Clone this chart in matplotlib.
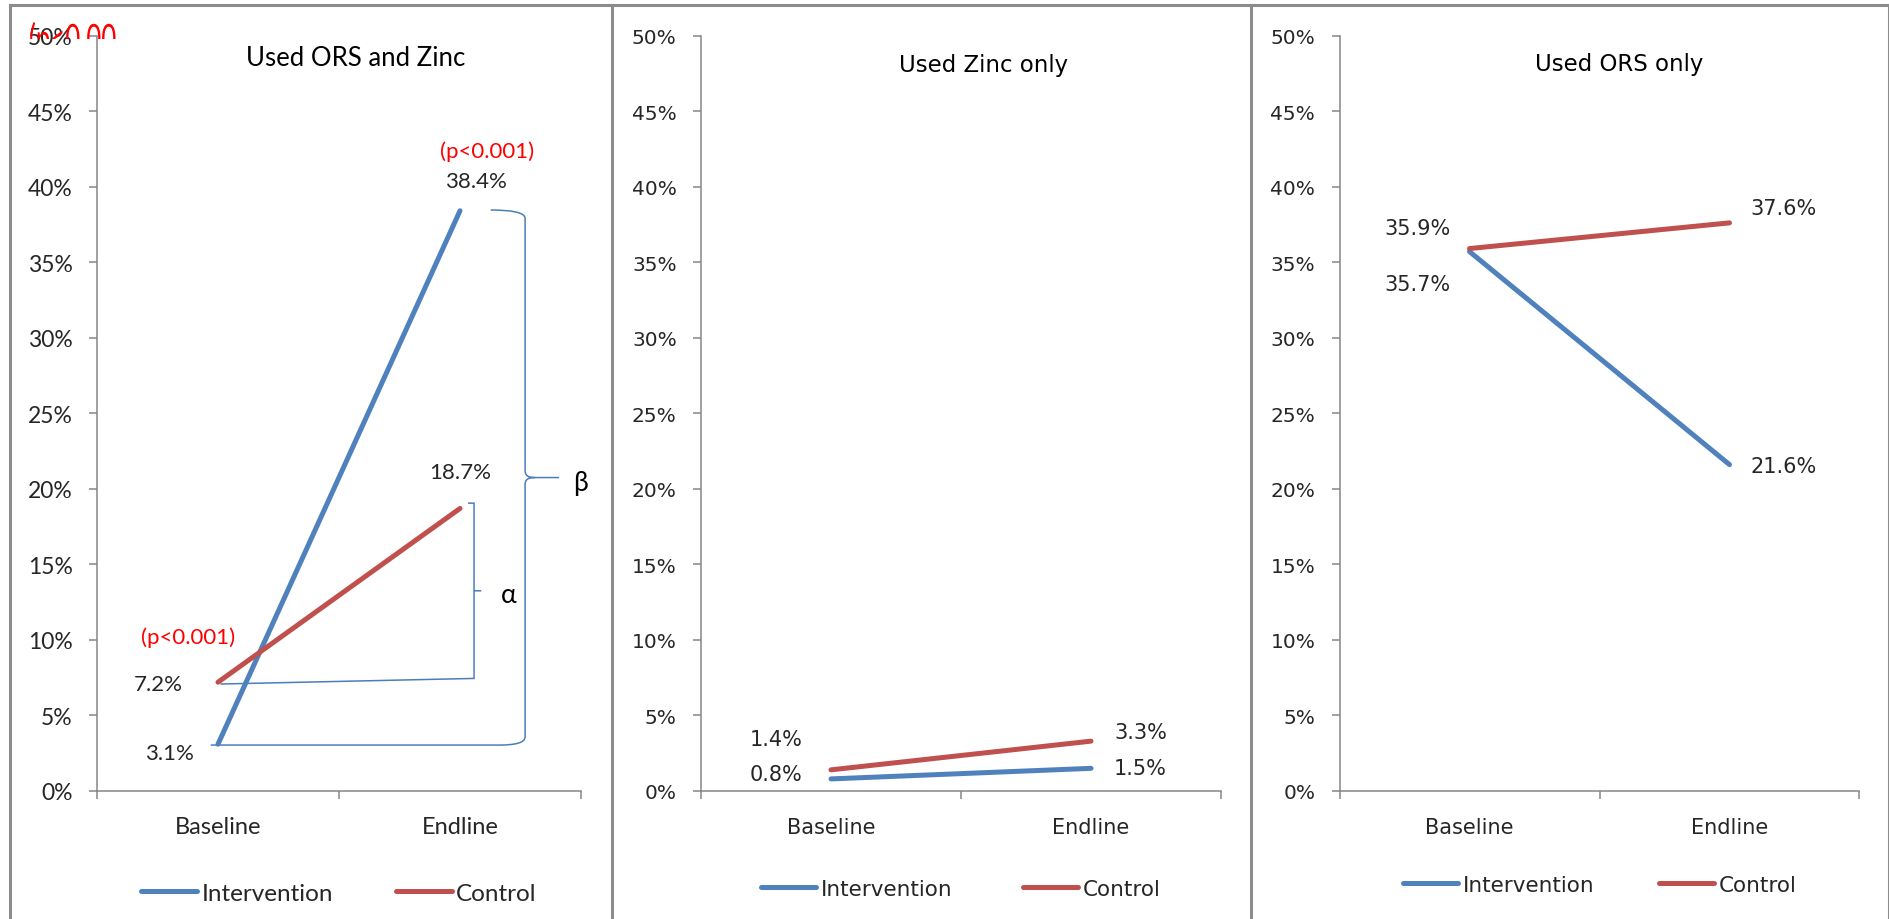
import matplotlib
matplotlib.use('Agg')
import matplotlib.pyplot as plt
from matplotlib.path import Path
from matplotlib.patches import PathPatch
from matplotlib.lines import Line2D
from matplotlib.textpath import TextPath
from matplotlib.font_manager import FontProperties
from matplotlib.transforms import Affine2D, Bbox

# Dados (% de uso)
periodos = ['Baseline', 'Endline']
titulos = ['Used ORS and Zinc', 'Used Zinc only', 'Used ORS only']
ors_zinco_intervencao = [3.1, 38.4]
ors_zinco_controle = [7.2, 18.7]
zinco_intervencao = [0.8, 1.5]
zinco_controle = [1.4, 3.3]
ors_intervencao = [35.7, 21.6]
ors_controle = [35.9, 37.6]
yticks = list(range(0, 51, 5))

AZUL = '#4F81BD'
VERMELHO = '#C0504D'
EIXO = '#868686'
TEXTO = '#262626'
MOLDURA = '#8C8C8C'
CHAVE = '#4A7EBB'

W, H = 1890, 920
fig = plt.figure(figsize=(W / 100, H / 100), dpi=100)

# posição dos eixos (pixels: esquerda, largura)
bottom = 1 - 792 / H
height = (792 - 36.5) / H
posicoes = [(97, 484), (701, 520), (1339.5, 520)]

# estilo de cada painel: fonte, ticks, categorias, legenda, título, rótulos
estilos = [
    dict(font=['Lato', 'DejaVu Sans'], tick=16.5, cat=17, leg=17.5, tit=18.5, lab=16,
         cat_pad=18, leg_y=894, hl=2.3, htp=0.17, cs=2.6, tit_xy=(0.534, 0.971)),
    dict(font=['DejaVu Sans'], tick=14.5, cat=15, leg=15.5, tit=16.5, lab=15,
         cat_pad=19, leg_y=890, hl=2.55, htp=0.23, cs=3.3, tit_xy=(0.543, 0.961)),
    dict(font=['DejaVu Sans'], tick=14.5, cat=15, leg=15.5, tit=16.5, lab=15,
         cat_pad=19, leg_y=886, hl=2.55, htp=0.23, cs=3.0, tit_xy=(0.538, 0.963)),
]

series = [
    (ors_zinco_intervencao, ors_zinco_controle),
    (zinco_intervencao, zinco_controle),
    (ors_intervencao, ors_controle),
]

# deslocamento dos rótulos (dx, dy) em relação a cada ponto
desloc_int = [[(-0.2, -0.6), (0.066, 1.94)],
              [(-0.21, 0.32), (0.19, 0.0)],
              [(-0.2, -2.13), (0.21, -0.1)]]
desloc_ctl = [[(-0.248, -0.12), (0.0, 2.4)],
              [(-0.21, 2.04), (0.19, 0.6)],
              [(-0.2, 1.34), (0.208, 1.0)]]

eixos = []
for i, ((left, width), est) in enumerate(zip(posicoes, estilos)):
    ax = fig.add_axes([left / W, bottom, width / W, height])
    eixos.append(ax)
    inter, ctl = series[i]
    x = [0, 1]
    ax.plot(x, inter, color=AZUL, lw=3.6, solid_capstyle='round', label='Intervention', zorder=3)
    ax.plot(x, ctl, color=VERMELHO, lw=3.6, solid_capstyle='round', label='Control', zorder=3)

    ax.set_xlim(-0.5, 1.5)
    ax.set_ylim(0, 50)
    ax.set_yticks(yticks)
    ax.set_yticklabels([f'{v}%' for v in yticks], fontfamily=est['font'],
                       fontsize=est['tick'], color=TEXTO)
    ax.set_xticks([-0.5, 0.5, 1.5])
    ax.set_xticklabels([])
    ax.set_xticks([0, 1], minor=True)
    ax.set_xticklabels(periodos, minor=True, fontfamily=est['font'],
                       fontsize=est['cat'], color=TEXTO)
    ax.tick_params(axis='x', which='minor', length=0, pad=est['cat_pad'])
    ax.tick_params(axis='x', which='major', length=5.7, width=1.1, color=EIXO)
    ax.tick_params(axis='y', length=5.5, width=1.1, color=EIXO, pad=12)
    for s in ['top', 'right']:
        ax.spines[s].set_visible(False)
    for s in ['left', 'bottom']:
        ax.spines[s].set_color(EIXO)
        ax.spines[s].set_linewidth(1.1)

    ax.text(est['tit_xy'][0], est['tit_xy'][1], titulos[i], transform=ax.transAxes,
            ha='center', va='center', fontfamily=est['font'], fontsize=est['tit'], color='black')

    for j in range(2):
        dx, dy = desloc_int[i][j]
        ax.text(x[j] + dx, inter[j] + dy, f'{inter[j]:.1f}%', ha='center', va='center',
                fontfamily=est['font'], fontsize=est['lab'], color=TEXTO)
        dx, dy = desloc_ctl[i][j]
        ax.text(x[j] + dx, ctl[j] + dy, f'{ctl[j]:.1f}%', ha='center', va='center',
                fontfamily=est['font'], fontsize=est['lab'], color=TEXTO)

    cx = (left + width / 2) / W
    leg = ax.legend(loc='center', bbox_to_anchor=(cx, 1 - est['leg_y'] / H),
                    bbox_transform=fig.transFigure, ncol=2, frameon=False,
                    handlelength=est['hl'], handletextpad=est['htp'],
                    columnspacing=est['cs'], borderpad=0,
                    prop=FontProperties(family=est['font'], size=est['leg']))
    for t in leg.get_texts():
        t.set_color(TEXTO)

# anotações do primeiro painel
ax = eixos[0]
inter, ctl = ors_zinco_intervencao, ors_zinco_controle
fonte1 = ['Lato', 'DejaVu Sans']
ax.text(1.11, 42.4, '(p<0.001)', ha='center', va='center', color='red',
        fontfamily=fonte1, fontsize=16)
ax.text(-0.125, 10.19, '(p<0.001)', ha='center', va='center', color='red',
        fontfamily=fonte1, fontsize=16)

# colchete alfa (controle)
topo_a = ctl[1] + 0.35
base_e = ctl[0] - 0.12
base_d = ctl[0] + 0.25
meio_a = (topo_a + base_d) / 2
xa = 1.058
verts = [(1.033, topo_a), (xa, topo_a), (xa, base_d), (0.01, base_e),
         (xa, meio_a), (1.088, meio_a)]
codes = [Path.MOVETO, Path.LINETO, Path.LINETO, Path.LINETO, Path.MOVETO, Path.LINETO]
ax.add_patch(PathPatch(Path(verts, codes), fill=False, edgecolor=CHAVE, lw=1.1, clip_on=False))
ax.text(1.201, meio_a - 0.25, 'α', ha='center', va='center', color='black',
        fontfamily=fonte1, fontsize=19)

# chave beta (intervenção)
topo_b = inter[1] + 0.05
base_b = inter[0] - 0.06
meio_b = (topo_b + base_b) / 2
xb = 1.269
verts = [(1.127, topo_b), (1.21, topo_b), (xb, topo_b - 0.15), (xb, topo_b - 0.55),
         (xb, meio_b + 0.5),
         (xb, meio_b + 0.15), (xb + 0.01, meio_b), (xb + 0.04, meio_b),
         (1.409, meio_b),
         (xb + 0.04, meio_b), (xb + 0.01, meio_b), (xb, meio_b - 0.15), (xb, meio_b - 0.5),
         (xb, base_b + 0.55),
         (xb, base_b + 0.15), (xb - 0.04, base_b), (xb - 0.11, base_b),
         (-0.03, base_b)]
codes = [Path.MOVETO, Path.CURVE4, Path.CURVE4, Path.CURVE4,
         Path.LINETO,
         Path.CURVE4, Path.CURVE4, Path.CURVE4,
         Path.LINETO,
         Path.MOVETO, Path.CURVE4, Path.CURVE4, Path.CURVE4,
         Path.LINETO,
         Path.CURVE4, Path.CURVE4, Path.CURVE4,
         Path.LINETO]
ax.add_patch(PathPatch(Path(verts, codes), fill=False, edgecolor=CHAVE, lw=1.1, clip_on=False))
ax.text(1.5, meio_b - 0.3, 'β', ha='center', va='center', color='black',
        fontfamily=fonte1, fontsize=19)

# texto vermelho cortado no canto superior esquerdo
tp = TextPath((0, 0), '(p<0.001)', size=1, prop=FontProperties(family='Lato'))
corte = PathPatch(tp, transform=Affine2D().scale(25.8, 39).translate(29, H - 53),
                  facecolor='red', edgecolor='none')
corte.set_clip_box(Bbox.from_extents(0, H - 40, 117, H - 20))
fig.add_artist(corte)

# moldura dos painéis
topo = 1 - 6 / H
fig.add_artist(Line2D([10 / W, 1889 / W], [topo, topo], transform=fig.transFigure,
                      color=MOLDURA, lw=2.2, solid_capstyle='projecting'))
for xp in [10, 612, 1251, 1889]:
    fig.add_artist(Line2D([xp / W, xp / W], [0, topo], transform=fig.transFigure,
                          color=MOLDURA, lw=2.2))

fig.savefig('out.png', dpi=100, facecolor='white')
